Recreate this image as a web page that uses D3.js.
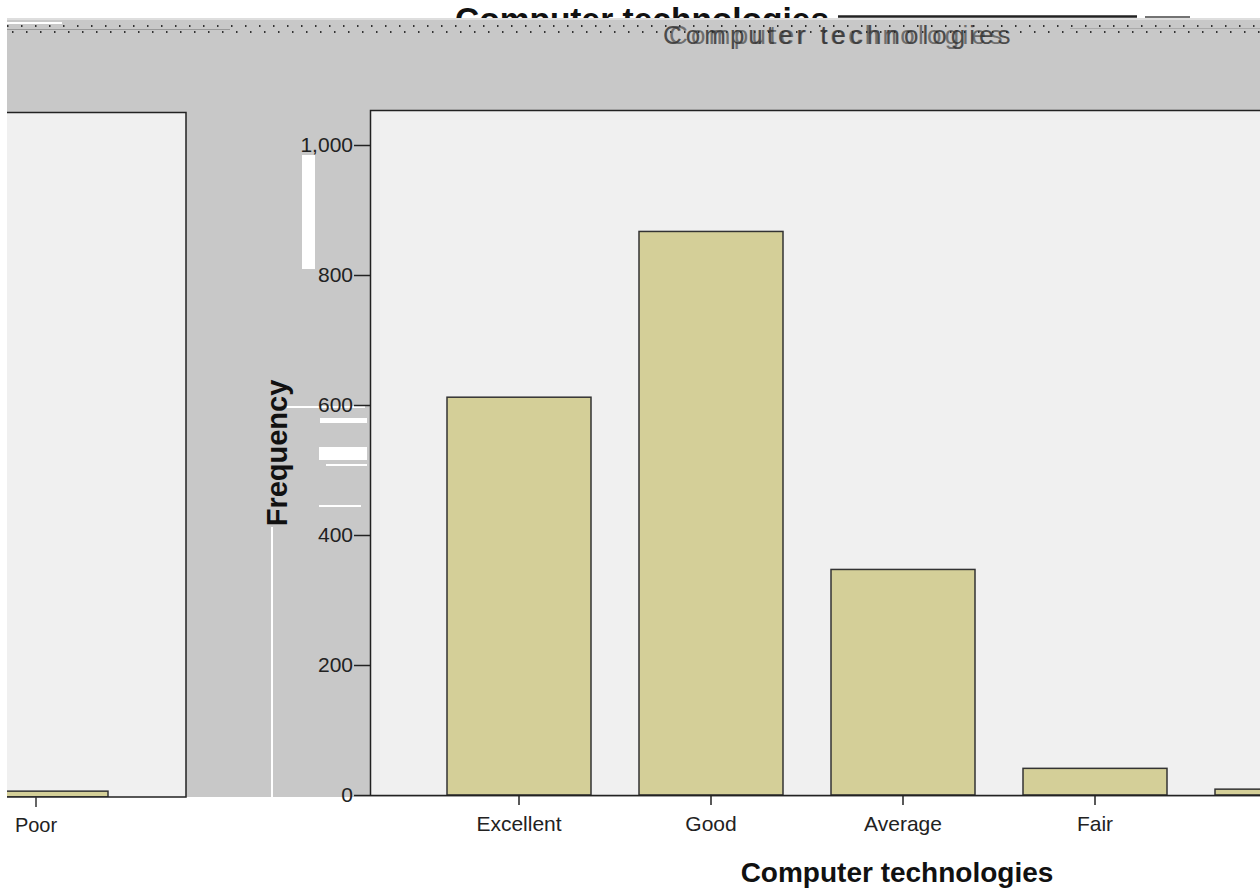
<!DOCTYPE html>
<html><head><meta charset="utf-8">
<script src="https://cdn.jsdelivr.net/npm/d3@7"></script>
<style>body{margin:0;background:#fff;}svg{display:block;font-family:"Liberation Sans",Arial,sans-serif;}</style>
</head><body>
<script>
const categories = ["Excellent","Good","Average","Fair","Poor"];
const frequencies = [612, 867, 347, 41, 9];
const yTicks = [0,200,400,600,800,1000];
const titleText = "Computer technologies";
const yLabel = "Frequency";

const W = 1260, H = 892;
const svg = d3.select("body").append("svg").attr("width",W).attr("height",H);
const data = categories.map((c,i)=>({c, v:frequencies[i]}));

const x = d3.scaleBand().domain(categories).range([423,1383]).paddingInner(0.25).paddingOuter(0.125);
const y = d3.scaleLinear().domain([0,1000]).range([795,145]);
const shift = -1251;

// top glitched bold title (partially hidden by the gray band)
svg.append("text").attr("x",455).attr("y",31).attr("font-size",33.5).attr("font-weight","bold").attr("fill","#111").text(titleText);
svg.append("line").attr("x1",838).attr("x2",1137).attr("y1",16.5).attr("y2",16.5).attr("stroke","#222").attr("stroke-width",2.5);
svg.append("line").attr("x1",1145).attr("x2",1190).attr("y1",17).attr("y2",17).attr("stroke","#444").attr("stroke-width",1.5);
svg.append("line").attr("x1",1203).attr("x2",1260).attr("y1",17).attr("y2",17).attr("stroke","#fff").attr("stroke-width",2);

// gray background
svg.append("rect").attr("x",7).attr("y",18).attr("width",W-7).attr("height",779).attr("fill","#c8c8c8");
svg.append("line").attr("x1",7).attr("x2",1260).attr("y1",19).attr("y2",19).attr("stroke","#dedede").attr("stroke-width",2);
svg.append("line").attr("x1",7).attr("x2",62).attr("y1",23).attr("y2",23).attr("stroke","#fff").attr("stroke-width",2);
svg.append("line").attr("x1",7).attr("x2",1260).attr("y1",26).attr("y2",26).attr("stroke","#333").attr("stroke-width",2).attr("stroke-dasharray","1.5,12.5");
svg.append("line").attr("x1",12).attr("x2",1260).attr("y1",32).attr("y2",32).attr("stroke","#333").attr("stroke-width",2).attr("stroke-dasharray","1.5,12.5");
svg.append("line").attr("x1",7).attr("x2",230).attr("y1",29.5).attr("y2",29.5).attr("stroke","#999").attr("stroke-width",1);
svg.append("line").attr("x1",1070).attr("x2",1260).attr("y1",28.5).attr("y2",28.5).attr("stroke","#aaa").attr("stroke-width",1);

// second garbled title
svg.append("text").attr("x",663).attr("y",44).attr("font-size",26).attr("fill","#222").attr("opacity",0.75).attr("letter-spacing",4).text(titleText);
svg.append("text").attr("x",669).attr("y",44).attr("font-size",26).attr("fill","#333").attr("opacity",0.6).attr("letter-spacing",3.3).text(titleText);

// left panel (shifted duplicate)
const defs = svg.append("defs");
defs.append("clipPath").attr("id","lp").append("rect").attr("x",7).attr("y",112).attr("width",179).attr("height",685);
svg.append("rect").attr("x",7).attr("y",112).attr("width",179).attr("height",685).attr("fill","#f0f0f0");
const lg = svg.append("g").attr("clip-path","url(#lp)").append("g").attr("transform",`translate(${shift},2)`);
lg.selectAll("rect").data(data).join("rect")
  .attr("x",d=>x(d.c)).attr("y",d=>y(d.v)).attr("width",x.bandwidth()).attr("height",d=>y(0)-y(d.v))
  .attr("fill","#d4cf98").attr("stroke","#333").attr("stroke-width",1.5);
svg.append("path").attr("d","M7,112.5H186V797H7").attr("fill","none").attr("stroke","#222").attr("stroke-width",1.5);
const visibleLeft = categories.filter(d => x(d)+x.bandwidth()/2+shift > 20);
const ll = svg.append("g").attr("transform",`translate(${shift},2)`);
ll.selectAll("line").data(visibleLeft).join("line")
  .attr("x1",d=>x(d)+x.bandwidth()/2).attr("x2",d=>x(d)+x.bandwidth()/2).attr("y1",795).attr("y2",805).attr("stroke","#333").attr("stroke-width",1.5);
ll.selectAll("text").data(visibleLeft).join("text")
  .attr("x",d=>x(d)+x.bandwidth()/2).attr("y",830).attr("text-anchor","middle").attr("font-size",20).attr("fill","#222").text(d=>d);

// white glitch marks
const marks = [[302,155,13,114],[287,406,78,2],[320,418,47,5],[319,447,48,13],[326,464,41,2],[319,505,42,2],[271,527,2,270]];
svg.selectAll("rect.m").data(marks).join("rect").attr("class","m")
  .attr("x",d=>d[0]).attr("y",d=>d[1]).attr("width",d=>d[2]).attr("height",d=>d[3]).attr("fill","#fff");

// main plot
svg.append("rect").attr("x",370).attr("y",110).attr("width",890).attr("height",685).attr("fill","#f0f0f0");
svg.append("path").attr("d","M1260,110.5H370.5V795").attr("fill","none").attr("stroke","#222").attr("stroke-width",1.5);
svg.append("g").selectAll("rect").data(data).join("rect")
  .attr("x",d=>x(d.c)).attr("y",d=>y(d.v)).attr("width",x.bandwidth()).attr("height",d=>y(0)-y(d.v))
  .attr("fill","#d4cf98").attr("stroke","#333").attr("stroke-width",1.5);

const fmt = d3.format(",");
const ya = svg.append("g").attr("transform","translate(370,0)")
  .call(d3.axisLeft(y).tickValues(yTicks).tickFormat(fmt).tickSize(16).tickPadding(1));
ya.select(".domain").remove();
ya.selectAll("line").attr("stroke","#222").attr("stroke-width",1.5);
ya.selectAll("text").attr("font-size",21).attr("fill","#222").attr("font-family","Liberation Sans, Arial, sans-serif");

const visibleMain = categories.filter(d => x(d)+x.bandwidth()/2 < W);
const xa = svg.append("g").attr("transform","translate(0,795)")
  .call(d3.axisBottom(x).tickValues(visibleMain).tickSize(10).tickPadding(11));
xa.select(".domain").attr("d","M370,0.5H1260").attr("stroke","#222").attr("stroke-width",1.5);
xa.selectAll("line").attr("stroke","#222").attr("stroke-width",1.5);
xa.selectAll("text").attr("font-size",21).attr("fill","#222").attr("font-family","Liberation Sans, Arial, sans-serif");

svg.append("text").attr("transform","translate(287,453) rotate(-90)").attr("text-anchor","middle")
  .attr("font-size",29).attr("font-weight","bold").attr("fill","#111").text(yLabel);
svg.append("text").attr("x",897).attr("y",882).attr("text-anchor","middle")
  .attr("font-size",28).attr("font-weight","bold").attr("fill","#111").text(titleText);
</script>
</body></html>
